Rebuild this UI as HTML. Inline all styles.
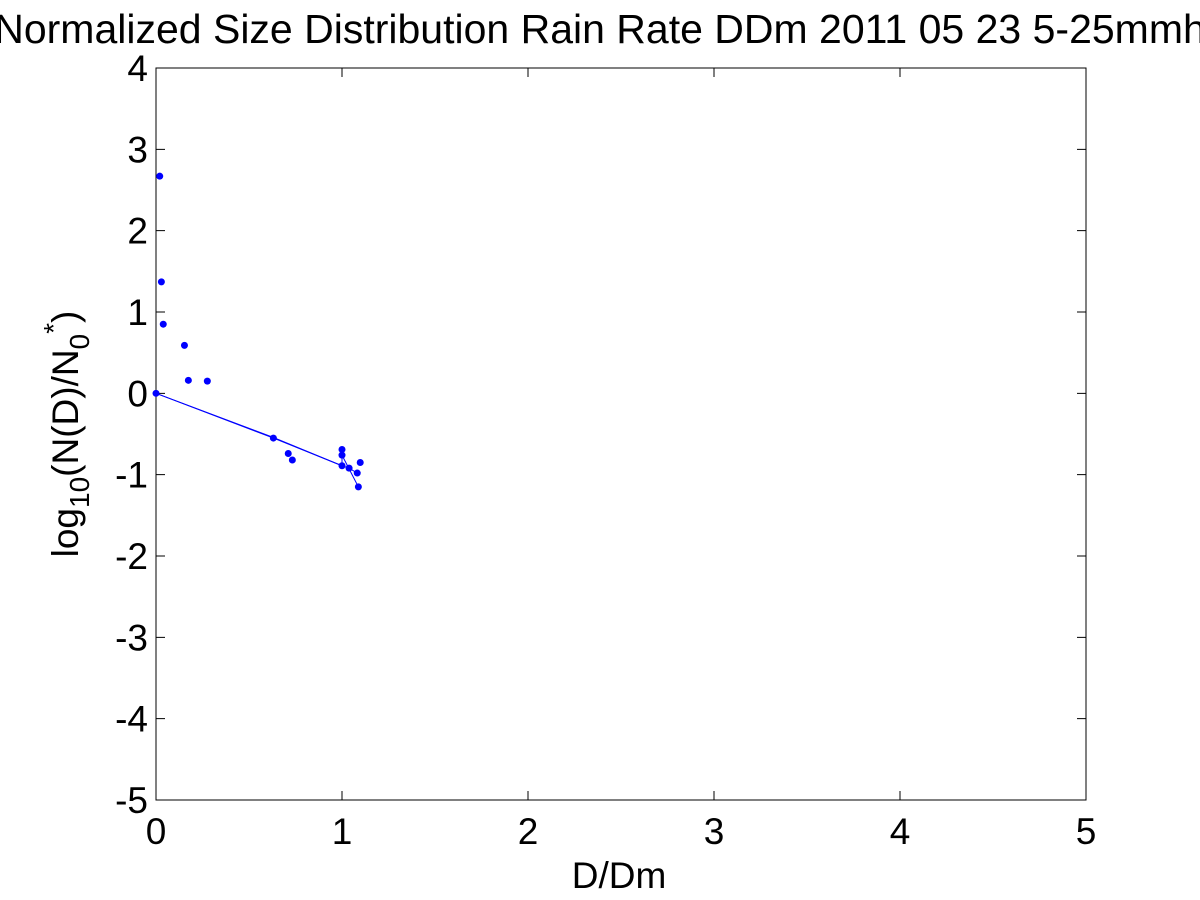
<!DOCTYPE html>
<html><head><meta charset="utf-8"><style>
body{margin:0;background:#fff}
svg{display:block;font-family:"Liberation Sans",Arial,sans-serif}
</style></head><body>
<svg id="chart" width="1200" height="900" xmlns="http://www.w3.org/2000/svg">
<rect width="1200" height="900" fill="#fff"/>
<text x="600" y="43" font-size="41" text-anchor="middle">Normalized Size Distribution Rain Rate DDm 2011 05 23 5-25mmh</text>
<rect x="156" y="68" width="930" height="732" fill="none" stroke="#000" stroke-width="1"/>
<g id="ticks"></g>
<g id="lines"></g>
<g id="points"></g>
<text x="619" y="888" font-size="37" text-anchor="middle">D/Dm</text>
<text transform="translate(78,434) rotate(-90)" font-size="37" text-anchor="middle">log<tspan font-size="28" dy="11">10</tspan><tspan dy="-11">(N(D)/N</tspan><tspan font-size="28" dy="11">0</tspan><tspan font-size="28" dy="-26">*</tspan><tspan dy="15">)</tspan></text>
</svg>
<script>
const xTicks=[0,1,2,3,4,5];
const yTicks=[4,3,2,1,0,-1,-2,-3,-4,-5];
const ptX=[0.02,0.029,0.039,0.153,0.174,0.276,0,0.631,0.711,0.733,1.0,1.0,1.0,1.038,1.098,1.082,1.088];
const ptY=[2.67,1.37,0.85,0.59,0.16,0.15,0,-0.55,-0.74,-0.82,-0.69,-0.76,-0.89,-0.92,-0.85,-0.98,-1.15];
const lineAX=[0,0.631,1.0,1.038,1.082];
const lineAY=[0,-0.55,-0.89,-0.92,-0.98];
const lineBX=[0,0.628,1.0,1.0,1.088];
const lineBY=[0,-0.54,-0.89,-0.76,-1.15];
const L=156,R=1086,T=68,B=800;
const sx=v=>L+(v-0)/5*(R-L);
const sy=v=>T+(4-v)/9*(B-T);
const NS="http://www.w3.org/2000/svg";
function mk(tag,attrs,parent){const e=document.createElementNS(NS,tag);for(const k in attrs)e.setAttribute(k,attrs[k]);parent.appendChild(e);return e;}
const tg=document.getElementById('ticks');
xTicks.forEach(t=>{const x=sx(t);
 let l=mk('path',{d:`M${x},${B}v-9M${x},${T}v9`,stroke:'#000'},tg);
 
 
 let tx=mk('text',{x:x,y:B+44,'font-size':37,'text-anchor':'middle'},tg);tx.textContent=t;
 
 
});
yTicks.forEach(t=>{const y=sy(t);
 let l=mk('path',{d:`M${L},${y}h9M${R},${y}h-9`,stroke:'#000'},tg);
 
 
 let tx=mk('text',{x:L-8,y:y+13,'font-size':37,'text-anchor':'end'},tg);tx.textContent=t;
 
 
});
const lg=document.getElementById('lines');
[[lineAX,lineAY],[lineBX,lineBY]].forEach((s,i)=>{
 const p=mk('polyline',{points:s[0].map((v,j)=>sx(v)+','+sy(s[1][j])).join(' '),fill:'none',stroke:'#0000ff','stroke-width':1},lg);
 
 
});
const pg=document.getElementById('points');
ptX.forEach((v,i)=>{
 const c=mk('circle',{cx:sx(v),cy:sy(ptY[i]),r:3.5,fill:'#0000ff'},pg);
 
 
});
</script>
</body></html>
